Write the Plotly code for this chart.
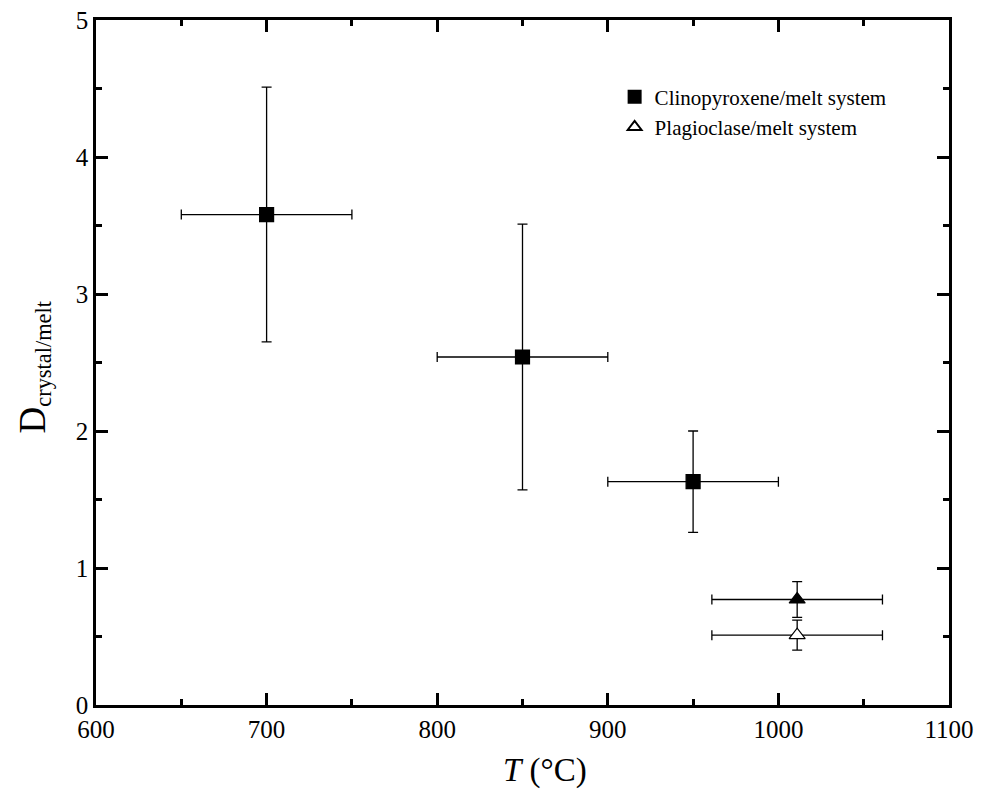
import plotly.graph_objects as go

# Clinopyroxene/melt system
cpx_T = [700, 850, 950]
cpx_D = [3.58, 2.54, 1.63]
cpx_Terr = [50, 50, 50]
cpx_Derr = [0.93, 0.97, 0.37]

# Unlabelled filled triangle
tri_T = [1011]
tri_D = [0.77]
tri_Terr = [50]
tri_Derr = [0.13]

# Plagioclase/melt system
plg_T = [1011]
plg_D = [0.51]
plg_Terr = [50]
plg_Derr = [0.11]

FONT = "Liberation Serif"

fig = go.Figure()

def add(x, y, ex, ey, sym, fill, name, show):
    fig.add_trace(go.Scatter(
        x=x, y=y, mode="markers", name=name, showlegend=show,
        marker=dict(symbol=sym, size=14, color=fill,
                    line=dict(color="black", width=1.2)),
        error_x=dict(type="data", array=ex, color="black", thickness=1.3, width=5),
        error_y=dict(type="data", array=ey, color="black", thickness=1.3, width=5),
    ))

add(cpx_T, cpx_D, cpx_Terr, cpx_Derr, "square", "black", "Clinopyroxene/melt system", True)
add(tri_T, tri_D, tri_Terr, tri_Derr, "triangle-up", "black", "", False)
add(plg_T, plg_D, plg_Terr, plg_Derr, "triangle-up", "white", "Plagioclase/melt system", True)

axis_common = dict(
    showgrid=False, zeroline=False, showline=True, linecolor="black", linewidth=2.5,
    ticks="inside", ticklen=12, tickwidth=2.5, tickcolor="black", mirror="ticks",
    tickfont=dict(family=FONT, size=25, color="black"), automargin=False,
    ticklabeloverflow="allow",
)

fig.update_xaxes(range=[600, 1100], tick0=600, dtick=100,
                 minor=dict(ticks="inside", ticklen=6, tickwidth=2.5, dtick=50, tickcolor="black"),
                 **axis_common)
fig.update_yaxes(range=[0, 5], tick0=0, dtick=1,
                 minor=dict(ticks="inside", ticklen=6, tickwidth=2.5, dtick=0.5, tickcolor="black"),
                 **axis_common)

fig.add_annotation(text="<span style='font-size:37px'>D</span><sub>crystal/melt</sub>",
                   xref="paper", yref="paper", x=0, y=0.5, xshift=-62, yshift=-5,
                   textangle=-90, xanchor="center", yanchor="middle", showarrow=False,
                   font=dict(family=FONT, size=32, color="black"))

fig.add_annotation(text="<i>T</i> (°C)", xref="paper", yref="paper", x=0.526, y=0,
                   yshift=-65, xanchor="center", yanchor="middle", showarrow=False,
                   font=dict(family=FONT, size=33, color="black"))

fig.update_layout(
    width=983, height=793,
    margin=dict(l=88, r=42, t=12, b=96),
    plot_bgcolor="white", paper_bgcolor="white",
    legend=dict(x=0.608, y=0.9175, xanchor="left", yanchor="top",
                font=dict(family=FONT, size=21, color="black"),
                bgcolor="rgba(0,0,0,0)", itemsizing="constant", tracegroupgap=0),
)

fig.write_html("out.html")
